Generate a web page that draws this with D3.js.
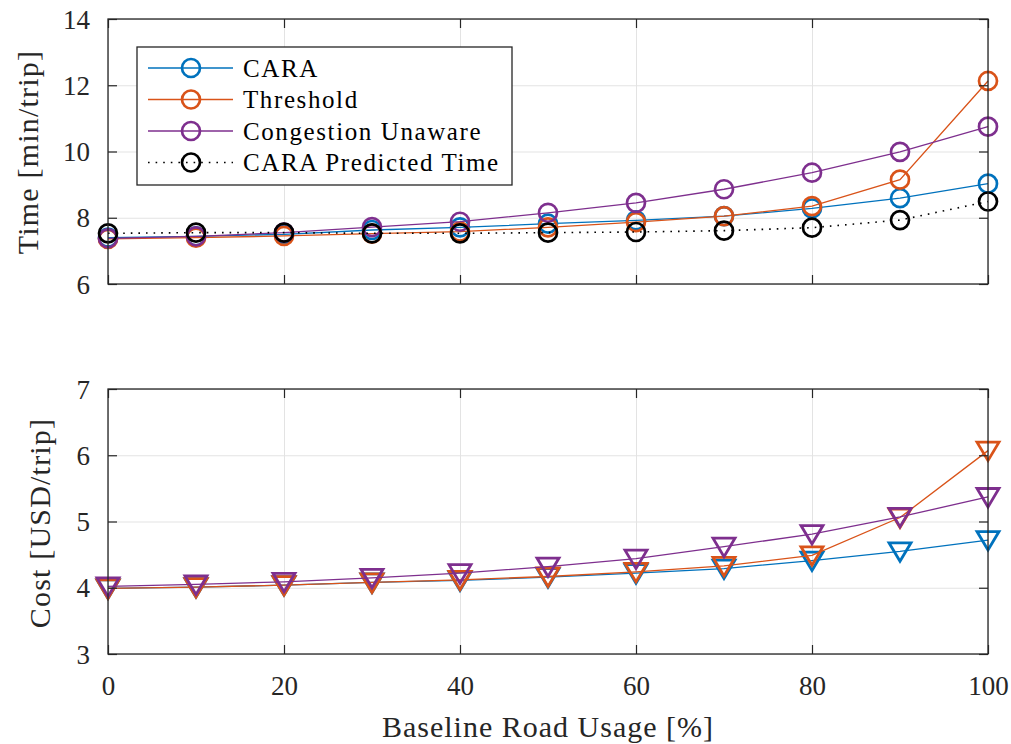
<!DOCTYPE html>
<html>
<head>
<meta charset="utf-8">
<script src="https://cdn.jsdelivr.net/npm/d3@7"></script>
<style>
  body { margin: 0; background: #fff; }
</style>
</head>
<body>
<div id="figure"></div>
<script>
// baseline road usage (%)
const usage = [0, 10, 20, 30, 40, 50, 60, 70, 80, 90, 100];

// travel time (min/trip)
const timeCara = [7.40, 7.44, 7.50, 7.63, 7.71, 7.82, 7.92, 8.05, 8.28, 8.59, 9.03];
const timeThreshold = [7.36, 7.40, 7.45, 7.52, 7.58, 7.71, 7.87, 8.05, 8.35, 9.15, 12.13];
const timeUnaware = [7.38, 7.44, 7.55, 7.72, 7.88, 8.15, 8.45, 8.86, 9.36, 9.99, 10.75];
const timePredicted = [7.53, 7.55, 7.55, 7.53, 7.53, 7.55, 7.57, 7.61, 7.70, 7.93, 8.49];

// cost (USD/trip)
const costCara = [3.99, 4.01, 4.04, 4.08, 4.11, 4.16, 4.22, 4.29, 4.41, 4.55, 4.72];
const costThreshold = [3.99, 4.01, 4.04, 4.08, 4.12, 4.17, 4.24, 4.33, 4.49, 5.06, 6.07];
const costUnaware = [4.02, 4.05, 4.09, 4.15, 4.22, 4.32, 4.44, 4.62, 4.81, 5.07, 5.37];

const legendLabels = ["CARA", "Threshold", "Congestion Unaware", "CARA Predicted Time"];
const xTicks = [0, 20, 40, 60, 80, 100];
const timeTicks = [6, 8, 10, 12, 14];
const costTicks = [3, 4, 5, 6, 7];

const couleurs = ["#0072BD", "#D95319", "#7E2F8E", "#000000"];
const axeCouleur = "#262626";
const grilleCouleur = "#e3e3e3";
const police = "'Liberation Serif', 'DejaVu Serif', serif";

const largeur = 1011, hauteur = 744;
const gauche = 108, droite = 988;

const svg = d3.select("#figure")
    .append("svg")
    .attr("width", largeur)
    .attr("height", hauteur)
    .style("font-family", police);

const x = d3.scaleLinear().domain([0, 100]).range([gauche, droite]);

function creePanneau(haut, bas, domaine, ticks, avecLabelsX) {
    const y = d3.scaleLinear().domain(domaine).range([bas, haut]);
    const g = svg.append("g");

    // grille
    g.append("g")
        .attr("transform", "translate(0," + bas + ")")
        .call(d3.axisBottom(x).tickValues(xTicks).tickSize(-(bas - haut)).tickFormat(""))
        .call(s => s.select(".domain").remove())
        .selectAll("line").attr("stroke", grilleCouleur).attr("stroke-width", 1);
    g.append("g")
        .attr("transform", "translate(" + gauche + ",0)")
        .call(d3.axisLeft(y).tickValues(ticks).tickSize(-(droite - gauche)).tickFormat(""))
        .call(s => s.select(".domain").remove())
        .selectAll("line").attr("stroke", grilleCouleur).attr("stroke-width", 1);

    return { g: g, y: y, haut: haut, bas: bas, ticks: ticks, avecLabelsX: avecLabelsX };
}

function finitPanneau(p) {
    const g = svg.append("g");
    const tick = 9;
    // axes avec ticks vers l'interieur
    const gy = g.append("g")
        .attr("transform", "translate(" + gauche + ",0)")
        .call(d3.axisLeft(p.y).tickValues(p.ticks).tickSize(-tick).tickPadding(18).tickFormat(d3.format("d")));
    gy.selectAll("text").attr("dy", "0.34em");
    g.append("g")
        .attr("transform", "translate(" + droite + ",0)")
        .call(d3.axisRight(p.y).tickValues(p.ticks).tickSize(-tick).tickFormat(""));
    g.append("g")
        .attr("transform", "translate(0," + p.bas + ")")
        .call(d3.axisBottom(x).tickValues(xTicks).tickSize(-tick).tickPadding(22)
            .tickFormat(p.avecLabelsX ? d3.format("d") : ""));
    g.append("g")
        .attr("transform", "translate(0," + p.haut + ")")
        .call(d3.axisTop(x).tickValues(xTicks).tickSize(-tick).tickFormat(""));
    g.selectAll("g").attr("font-family", null).attr("font-size", null);
    g.selectAll(".domain").remove();
    g.selectAll(".tick line").attr("stroke", axeCouleur).attr("stroke-width", 1.2);
    g.selectAll(".tick text")
        .attr("fill", axeCouleur)
        .attr("font-size", 27)
        .style("font-family", police);

    g.append("rect")
        .attr("x", gauche)
        .attr("y", p.haut)
        .attr("width", droite - gauche)
        .attr("height", p.bas - p.haut)
        .attr("fill", "none")
        .attr("stroke", axeCouleur)
        .attr("stroke-width", 1.3);
}

function trianglePath(cx, cy) {
    return "M" + (cx - 11) + "," + (cy - 8.5) + "L" + (cx + 11) + "," + (cy - 8.5) +
        "L" + cx + "," + (cy + 10) + "Z";
}

function dessineSerie(p, valeurs, couleur, pointille, marqueur) {
    const ligne = d3.line().x((d, i) => x(usage[i])).y(d => p.y(d));
    p.g.append("path")
        .datum(valeurs)
        .attr("d", ligne)
        .attr("fill", "none")
        .attr("stroke", couleur)
        .attr("stroke-width", pointille ? 1.6 : 1.3)
        .attr("stroke-dasharray", pointille ? "1.6,6" : null);
    if (marqueur === "cercle") {
        p.g.selectAll(null)
            .data(valeurs)
            .enter()
            .append("circle")
            .attr("cx", (d, i) => x(usage[i]))
            .attr("cy", d => p.y(d))
            .attr("r", 9)
            .attr("fill", "none")
            .attr("stroke", couleur)
            .attr("stroke-width", 2.7);
    } else {
        p.g.selectAll(null)
            .data(valeurs)
            .enter()
            .append("path")
            .attr("d", (d, i) => trianglePath(x(usage[i]), p.y(d)))
            .attr("fill", "none")
            .attr("stroke", couleur)
            .attr("stroke-width", 2.8)
            .attr("stroke-linejoin", "miter");
    }
}

// panneau du haut : temps
const haut = creePanneau(19, 284, [6, 14], timeTicks, false);
[timeCara, timeThreshold, timeUnaware, timePredicted].forEach((v, i) => {
    dessineSerie(haut, v, couleurs[i], i === 3, "cercle");
});
finitPanneau(haut);

// panneau du bas : cout
const bas = creePanneau(389, 654, [3, 7], costTicks, true);
[costCara, costThreshold, costUnaware].forEach((v, i) => {
    dessineSerie(bas, v, couleurs[i], false, "triangle");
});
finitPanneau(bas);

// titres des axes
function texte(t) {
    return svg.append("text")
        .style("font-family", police)
        .attr("fill", axeCouleur)
        .text(t);
}
texte("Time [min/trip]")
    .attr("transform", "translate(38,152) rotate(-90)")
    .attr("text-anchor", "middle")
    .attr("font-size", 30)
    .attr("letter-spacing", 1.2);
texte("Cost [USD/trip]")
    .attr("transform", "translate(50,523) rotate(-90)")
    .attr("text-anchor", "middle")
    .attr("font-size", 30)
    .attr("letter-spacing", 1.2);
texte("Baseline Road Usage [%]")
    .attr("x", (gauche + droite) / 2)
    .attr("y", 737)
    .attr("text-anchor", "middle")
    .attr("font-size", 30)
    .attr("letter-spacing", 1);

// legende
const legende = svg.append("g");
legende.append("rect")
    .attr("x", 137)
    .attr("y", 47)
    .attr("width", 375)
    .attr("height", 138)
    .attr("fill", "#fff")
    .attr("stroke", axeCouleur)
    .attr("stroke-width", 1.3);
legendLabels.forEach((label, i) => {
    const ly = 68 + i * 31.5;
    legende.append("line")
        .attr("x1", 148).attr("x2", 233)
        .attr("y1", ly).attr("y2", ly)
        .attr("stroke", couleurs[i])
        .attr("stroke-width", i === 3 ? 1.6 : 1.3)
        .attr("stroke-dasharray", i === 3 ? "1.6,6" : null);
    legende.append("circle")
        .attr("cx", 191).attr("cy", ly)
        .attr("r", 9)
        .attr("fill", "none")
        .attr("stroke", couleurs[i])
        .attr("stroke-width", 2.7);
    legende.append("text")
        .style("font-family", police)
        .attr("fill", "#000")
        .attr("x", 243)
        .attr("y", ly)
        .attr("dy", "0.35em")
        .attr("font-size", 25)
        .attr("letter-spacing", 1.6)
        .text(label);
});
</script>
</body>
</html>
